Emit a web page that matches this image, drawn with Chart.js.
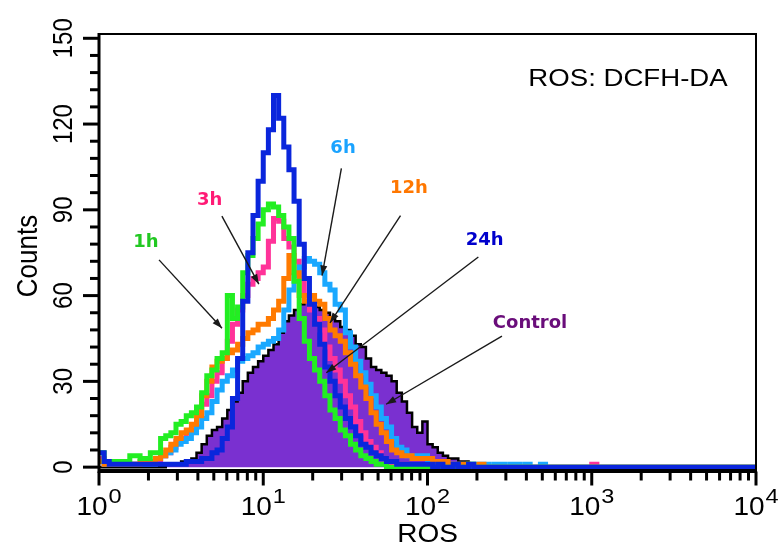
<!DOCTYPE html>
<html>
<head>
<meta charset="utf-8">
<script src="https://cdn.jsdelivr.net/npm/chart.js@4.4.1/dist/chart.umd.min.js"></script>
<style>
  html, body { margin: 0; padding: 0; background: #fff; }
  #wrap { width: 780px; height: 552px; }
</style>
</head>
<body>
<div id="wrap"><canvas id="myChart" width="780" height="552"></canvas></div>
<script>
// histogram channels: 32 bins per decade, starting at 10^0
const binsPerDecade = 32;

const control = [
  0,0,0,0,0,0,0,0,0,0,
  0,0,0,1,1,1,2,2,3,5,
  8,11,13,14,17,20,23,26,30,33,
  35,37,39,41,43,47,51,53,55,57,
  58,57,56,55,54,52,51,49,48,46,
  43,42,38,35,34,33,32,30,26,23,
  19,14,12,16,8,7,5,4,3,3,
  2,2,1,1,1,0,0,0,0,0,
  0,0,0,0,0,0,0,0,0,0,
  0,0,0,0,0,0,0,0,0,0
];
const h1 = [
  5,2,2,2,2,2,4,4,3,3,
  5,5,10,11,12,15,16,18,19,21,
  26,32,34,38,40,60,52,56,68,74,
  80,85,90,92,91,88,84,80,65,52,
  44,38,34,30,25,20,17,13,11,8,
  6,4,3,2,1,1,0,0,0,0,
  0,0,0,0,0,0,0,0,0,0,
  0,0,1,0,0,0,0,0,0,0,
  0,0,0,0,0,0,0,0,0,0,
  0,0,0,0,0,0,0,0,0,0
];
const h3 = [
  3,1,1,1,1,1,1,1,1,1,
  1,2,4,5,7,9,10,12,13,18,
  22,25,30,33,38,44,50,55,60,64,
  66,68,70,79,87,86,80,77,72,66,
  60,55,52,48,42,38,34,30,25,21,
  16,12,9,7,5,3,2,1,1,1,
  1,1,1,0,1,0,0,0,1,0,
  0,0,0,0,0,0,0,0,0,0,
  0,0,0,0,0,0,0,0,0,0,
  0,0,0,0,0,0,1,0,0,0
];
const h6 = [
  2,1,1,1,1,1,1,1,1,1,
  1,3,4,5,6,8,9,10,12,14,
  17,19,23,27,30,32,34,37,38,39,
  40,42,43,44,45,48,55,62,67,70,
  73,72,71,68,64,62,57,55,47,42,
  37,33,29,25,21,17,14,10,7,6,
  4,3,4,4,2,2,1,1,1,1,
  1,1,1,1,1,1,0,1,1,0,
  1,1,0,1,0,0,1,0,0,0,
  0,0,0,0,0,0,0,0,0,0
];
const h12 = [
  2,1,1,1,1,1,1,1,2,2,
  2,3,4,6,8,10,12,13,15,18,
  25,30,35,37,38,40,41,43,45,47,
  48,50,50,52,55,58,66,74,68,60,
  58,60,58,57,52,48,46,44,40,36,
  32,28,24,19,15,12,9,6,5,4,
  4,3,3,3,3,2,2,2,1,1,
  1,1,0,0,1,0,0,0,0,0,
  0,0,0,0,0,0,0,0,0,0,
  0,0,0,0,0,0,0,0,0,0
];
const h24 = [
  5,2,1,1,1,1,1,1,1,1,
  1,1,1,1,1,1,1,2,2,2,
  3,3,5,6,10,14,24,38,58,75,
  88,100,110,118,130,122,112,104,93,78,
  66,57,50,43,35,30,25,21,17,14,
  11,8,7,5,4,3,2,2,1,1,
  1,1,1,1,1,0,1,0,0,1,
  0,0,1,0,0,0,0,0,0,0,
  0,0,0,0,0,0,0,0,0,0,
  0,0,0,0,0,0,0,0,0,0
];

const yTicks = [0, 30, 60, 90, 120, 150];
const xDecades = [1, 10, 100, 1000, 10000];
const xExponents = ['0', '1', '2', '3', '4'];

// callout labels: text, colour, label position, arrow start, arrow end (data space)
const callouts = [
  { text: '1h',      color: '#22c822', at: [1.93, 78.5],  from: [2.32, 72.5], to: [5.61, 48.6] },
  { text: '3h',      color: '#ff1a75', at: [4.72, 93.4],  from: [5.6, 87.8],  to: [9.4, 64.0] },
  { text: '6h',      color: '#1aa3ff', at: [30.6, 111.5], from: [29.9, 104.5], to: [22.8, 67.0] },
  { text: '12h',     color: '#ff7700', at: [77.0, 97.6],  from: [68.5, 88.0], to: [25.5, 50.5] },
  { text: '24h',     color: '#0000cc', at: [223, 79.4],   from: [204, 73.5],  to: [24.2, 33.0] },
  { text: 'Control', color: '#6a0d7a', at: [421, 50.3],   from: [284, 45.8],  to: [56.0, 22.0] }
];
const panelTitle = { text: 'ROS: DCFH-DA', at: [1663, 136.6] };

const toPoints = arr => arr.map((v, i) => ({ x: Math.pow(10, i / binsPerDecade), y: v }))
  .concat([{ x: 10000, y: arr[arr.length - 1] }]);

function line(label, arr, color, order) {
  return {
    label: label, data: toPoints(arr), stepped: true, fill: false,
    borderColor: color, borderWidth: 5, pointRadius: 0, order: order,
    borderJoinStyle: 'miter', borderCapStyle: 'butt'
  };
}

function stretchedText(ctx, txt, x, y, font, color, align, rot, sx) {
  ctx.save();
  ctx.translate(x, y);
  ctx.scale(sx, 1);
  ctx.rotate(rot);
  ctx.font = font;
  ctx.fillStyle = color;
  ctx.textAlign = align;
  ctx.textBaseline = 'alphabetic';
  ctx.fillText(txt, 0, 0);
  ctx.restore();
}

const calloutPlugin = {
  id: 'callouts',
  afterDatasetsDraw(chart) {
    const ctx = chart.ctx, xs = chart.scales.x, ys = chart.scales.y;
    ctx.save();
    callouts.forEach(c => {
      const x1 = xs.getPixelForValue(c.from[0]), y1 = ys.getPixelForValue(c.from[1]);
      const x2 = xs.getPixelForValue(c.to[0]), y2 = ys.getPixelForValue(c.to[1]);
      ctx.strokeStyle = '#1a1a1a';
      ctx.lineWidth = 1.4;
      ctx.beginPath(); ctx.moveTo(x1, y1); ctx.lineTo(x2, y2); ctx.stroke();
      const a = Math.atan2(y2 - y1, x2 - x1);
      ctx.fillStyle = '#1a1a1a';
      ctx.beginPath();
      ctx.moveTo(x2, y2);
      ctx.lineTo(x2 - 10 * Math.cos(a) + 3.5 * Math.sin(a), y2 - 10 * Math.sin(a) - 3.5 * Math.cos(a));
      ctx.lineTo(x2 - 10 * Math.cos(a) - 3.5 * Math.sin(a), y2 - 10 * Math.sin(a) + 3.5 * Math.cos(a));
      ctx.closePath(); ctx.fill();

      ctx.font = 'bold 18px "DejaVu Sans"';
      ctx.fillStyle = c.color;
      ctx.textAlign = 'center';
      ctx.textBaseline = 'middle';
      ctx.fillText(c.text, xs.getPixelForValue(c.at[0]), ys.getPixelForValue(c.at[1]));
    });
    stretchedText(ctx, panelTitle.text, xs.getPixelForValue(panelTitle.at[0]),
      ys.getPixelForValue(panelTitle.at[1]) + 9, '24px "Liberation Sans"', '#000', 'center', 0, 1.15);
    ctx.restore();
  }
};

const axesPlugin = {
  id: 'axesPainter',
  afterDraw(chart) {
    const ctx = chart.ctx, a = chart.chartArea, xs = chart.scales.x, ys = chart.scales.y;
    ctx.save();
    ctx.strokeStyle = '#000';
    // frame
    ctx.lineWidth = 2;
    ctx.strokeRect(a.left, a.top, a.right - a.left, a.bottom - a.top);
    ctx.lineWidth = 3;
    ctx.beginPath();
    ctx.moveTo(a.left, a.top - 1); ctx.lineTo(a.left, a.bottom + 1.5);
    ctx.lineTo(a.right + 1, a.bottom + 1.5);
    ctx.stroke();

    // y ticks
    for (let v = 0; v <= 150; v += 6) {
      const py = ys.getPixelForValue(v);
      const len = v % 30 === 0 ? 16 : 9;
      ctx.beginPath(); ctx.moveTo(a.left - len, py); ctx.lineTo(a.left, py); ctx.stroke();
    }
    yTicks.forEach(v => {
      stretchedText(ctx, String(v), a.left - 27, ys.getPixelForValue(v), '24px "Liberation Sans"', '#000', 'center', -Math.PI / 2, 1.12);
    });
    stretchedText(ctx, 'Counts', 37, (a.top + a.bottom) / 2 + 4, '26px "Liberation Sans"', '#000', 'center', -Math.PI / 2, 1.1);

    // x ticks (log)
    const by = a.bottom + 1.5;
    for (let d = 0; d < 4; d++) {
      for (let m = 1; m <= 9; m++) {
        const v = Math.pow(10, d) * m;
        const px = xs.getPixelForValue(v);
        const len = m === 1 ? 14 : 9;
        ctx.beginPath(); ctx.moveTo(px, by); ctx.lineTo(px, by + len); ctx.stroke();
      }
    }
    ctx.beginPath(); ctx.moveTo(a.right, by); ctx.lineTo(a.right, by + 14); ctx.stroke();

    xDecades.forEach((v, i) => {
      const px = xs.getPixelForValue(v);
      ctx.font = '25px "Liberation Sans"';
      const wBase = ctx.measureText('10').width * 1.12;
      ctx.font = '21px "Liberation Sans"';
      const wExp = ctx.measureText(xExponents[i]).width * 1.12;
      const left = px - (wBase + wExp + 1) / 2;
      stretchedText(ctx, '10', left, 515, '25px "Liberation Sans"', '#000', 'left', 0, 1.12);
      stretchedText(ctx, xExponents[i], left + wBase + 1, 503, '21px "Liberation Sans"', '#000', 'left', 0, 1.12);
    });
    stretchedText(ctx, 'ROS', (a.left + a.right) / 2, 542, '25px "Liberation Sans"', '#000', 'center', 0, 1.12);
    ctx.restore();
  }
};

const ctx = document.getElementById('myChart');
const myChart = new Chart(ctx, {
  type: 'line',
  data: {
    datasets: [
      line('24h', h24, '#0a26dc', 0),
      line('1h', h1, '#22ee22', 1),
      line('12h', h12, '#ff7a00', 2),
      line('6h', h6, '#1aa8ff', 3),
      line('3h', h3, '#ff3399', 4),
      {
        label: 'Control', data: toPoints(control), stepped: true,
        fill: 'origin', backgroundColor: '#7a30d0',
        borderColor: '#000', borderWidth: 2.5, pointRadius: 0, order: 10
      }
    ]
  },
  options: {
    responsive: false,
    animation: false,
    layout: { padding: { left: 99, right: 24, top: 34, bottom: 82 } },
    plugins: { legend: { display: false }, tooltip: { enabled: false } },
    scales: {
      x: { type: 'logarithmic', min: 1, max: 10000, display: false },
      y: { type: 'linear', min: -1, max: 151.5, display: false }
    }
  },
  plugins: [calloutPlugin, axesPlugin]
});
</script>
</body>
</html>
